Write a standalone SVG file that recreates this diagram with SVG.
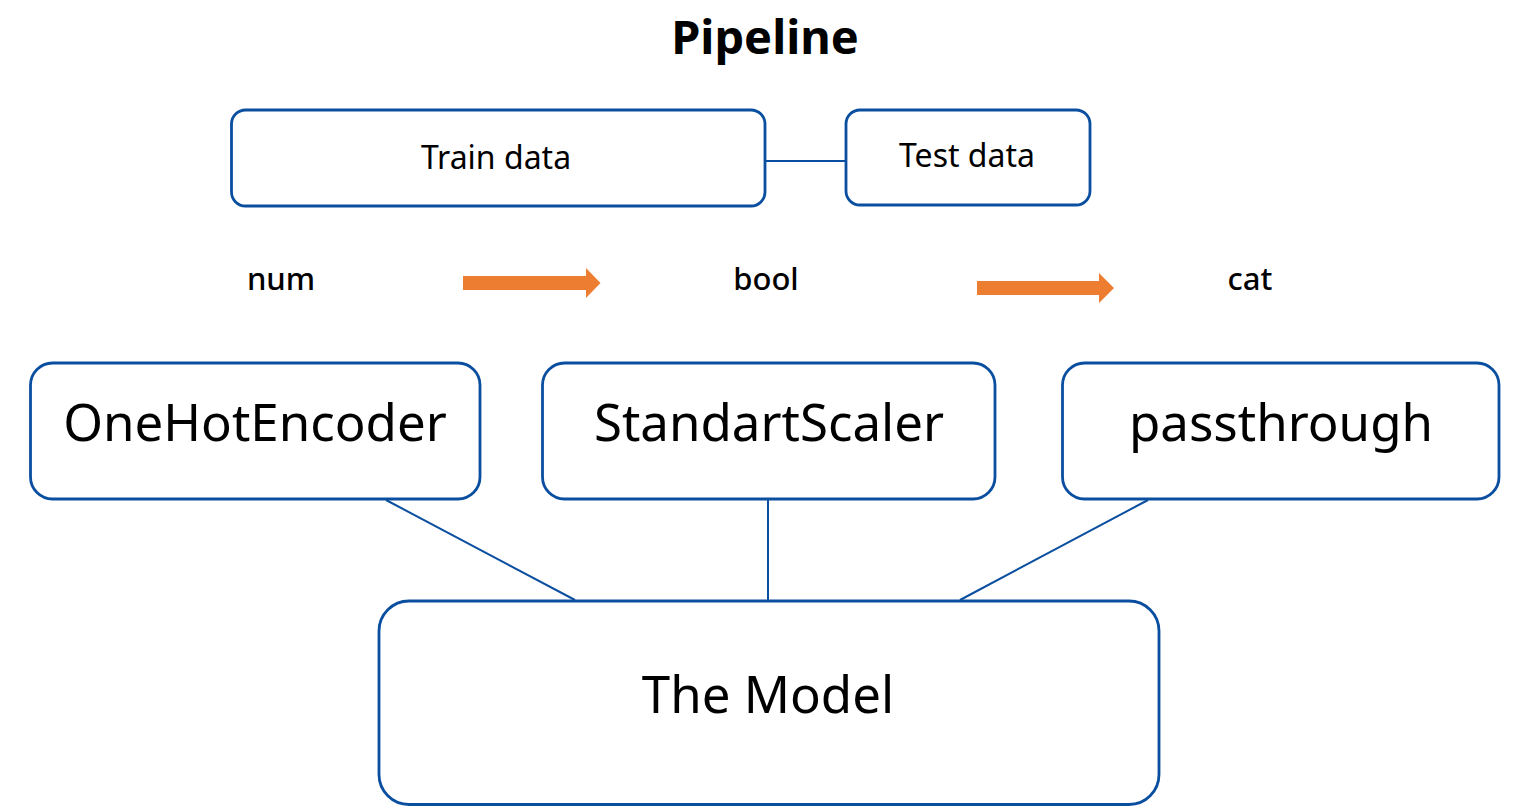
<svg xmlns="http://www.w3.org/2000/svg" width="1530" height="808" viewBox="0 0 1530 808">
<style>
.box{fill:#fff;stroke:#0A4EA0;stroke-width:2.8}
.ln{stroke:#0A4EA0;stroke-width:2;fill:none}
.t{font-family:"Noto Sans","Open Sans",sans-serif;fill:#000;text-anchor:middle}
.lab{font-size:31px;font-weight:500}
.arr{fill:#ED7D31}
</style>
<rect width="1530" height="808" fill="#fff"/>
<text class="t" x="765" y="54" font-size="47" font-weight="bold">Pipeline</text>
<g id="connectors">
<line class="ln" x1="765" y1="161" x2="846" y2="161"/>
<line class="ln" x1="386" y1="500" x2="575" y2="600"/>
<line class="ln" x1="768" y1="500" x2="768" y2="600"/>
<line class="ln" x1="1148" y1="500" x2="960" y2="600"/>
</g>
<g id="train"><rect class="box" x="231.5" y="110" width="533.5" height="96" rx="14"/><text class="t" x="496" y="169" font-size="32">Train data</text></g>
<g id="test"><rect class="box" x="846" y="110" width="244" height="95" rx="14"/><text class="t" x="967" y="167" font-size="32">Test data</text></g>
<g id="num"><text class="t lab" x="281" y="290">num</text></g>
<g id="bool"><text class="t lab" x="766" y="290">bool</text></g>
<g id="cat"><text class="t lab" x="1250" y="290">cat</text></g>
<g id="arrow1"><polygon class="arr" points="463,276 586,276 586,268 600.5,283 586,298 586,290 463,290"/></g>
<g id="arrow2"><polygon class="arr" points="977,281 1099,281 1099,273 1114,288 1099,303 1099,295 977,295"/></g>
<g id="onehot"><rect class="box" x="30.5" y="363" width="449.5" height="136" rx="22"/><text class="t" x="255" y="441" font-size="51">OneHotEncoder</text></g>
<g id="scaler"><rect class="box" x="542.5" y="363" width="452.5" height="136" rx="22"/><text class="t" x="769" y="441" font-size="51">StandartScaler</text></g>
<g id="pass"><rect class="box" x="1062.5" y="363" width="436.5" height="136" rx="22"/><text class="t" x="1281" y="441" font-size="51">passthrough</text></g>
<g id="model"><rect class="box" x="379" y="601" width="780" height="203.5" rx="30"/><text class="t" x="768" y="713" font-size="51">The Model</text></g>
</svg>
